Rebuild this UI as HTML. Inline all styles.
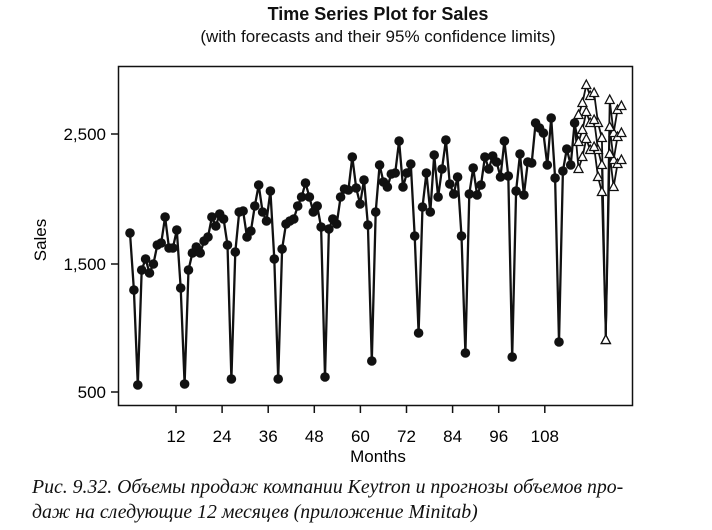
<!DOCTYPE html>
<html><head><meta charset="utf-8"><style>
body{margin:0;background:#fff;width:712px;height:530px;overflow:hidden;position:relative;font-family:"Liberation Sans",sans-serif;color:#111}
.t{position:absolute;white-space:nowrap}
</style></head><body>
<div class="t" style="left:0;width:756px;top:4px;text-align:center;font-weight:bold;font-size:18px">Time Series Plot for Sales</div>
<div class="t" style="left:0;width:756px;top:27px;text-align:center;font-size:17px">(with forecasts and their 95% confidence limits)</div>
<div class="t" style="left:32px;top:476px;font-family:'Liberation Serif',serif;font-style:italic;font-size:19.8px">Рис. 9.32. Объемы продаж компании Keytron и прогнозы объемов про-</div>
<div class="t" style="left:32px;top:501px;font-family:'Liberation Serif',serif;font-style:italic;font-size:19.8px">даж на следующие 12 месяцев (приложение Minitab)</div>
<svg id="s" width="712" height="530" style="position:absolute;left:0;top:0" font-family="Liberation Sans, sans-serif"></svg>
<script>
var s=document.getElementById('s'),h='';
h+='<rect x="118.5" y="66.5" width="514" height="339" fill="none" stroke="#111" stroke-width="1.5"/>';
[[2500,134,'2,500'],[1500,264,'1,500'],[500,392,'500']].forEach(function(a){h+='<line x1="111" y1="'+a[1]+'" x2="118" y2="'+a[1]+'" stroke="#111" stroke-width="1.5"/><text x="106" y="'+(a[1]+6)+'" font-size="17" text-anchor="end">'+a[2]+'</text>';});
var tx=[];for(var k=1;k<=9;k++)tx.push(176+(k-1)*46.1);
tx.forEach(function(x,i){h+='<line x1="'+x+'" y1="406" x2="'+x+'" y2="413" stroke="#111" stroke-width="1.5"/><text x="'+x+'" y="442" font-size="17" text-anchor="middle">'+(12*(i+1))+'</text>';});
h+='<text x="378" y="462" font-size="17" text-anchor="middle">Months</text>';
h+='<text transform="translate(46,240) rotate(-90)" font-size="17" text-anchor="middle">Sales</text>';
var y=[233,290,385,270,259,273,264,245,243,217,248,248,230,288,384,270,253,247,253,241,237,217,226,214,219,245,379,252,212,211,237,231,206,185,212,221,191,259,379,249,224,221,219,206,197,183,197,212,206,227,377,229,219,224,197,189,190,157,188,204,180,225,361,212,165,182,187,174,173,141,187,173,164,236,333,207,173,212,155,197,169,140,184,194,177,236,353,194,168,195,185,157,169,156,162,177,141,176,357,191,154,195,162,163,123,128,133,165,118,178,342,171,149,165,123];
var xs=[];for(var i=0;i<y.length;i++)xs.push(130+i*3.9);
var p='';for(i=0;i<y.length;i++)p+=(i?'L':'M')+xs[i].toFixed(1)+' '+y[i];
h+='<path d="'+p+'" fill="none" stroke="#111" stroke-width="2.3"/>';
for(i=0;i<y.length;i++)h+='<circle cx="'+xs[i].toFixed(1)+'" cy="'+y[i]+'" r="4.8" fill="#111"/>';
var m=[142,130,112,123,120,150,165,340,127,160,137,133];
var x0=xs[xs.length-1];
[-27,0,27].forEach(function(d){var q='M'+x0.toFixed(1)+' '+y[y.length-1];for(var j=0;j<12;j++){var v=m[j]+(j==7?0:d);q+='L'+(x0+3.9*(j+1)).toFixed(1)+' '+v;}h+='<path d="'+q+'" fill="none" stroke="#111" stroke-width="1.8"/>';});
[-27,0,27].forEach(function(d){for(var j=0;j<12;j++){var cx=x0+3.9*(j+1),cy=m[j]+(j==7?0:d);h+='<polygon points="'+cx+','+(cy-5)+' '+(cx-4.5)+','+(cy+3.5)+' '+(cx+4.5)+','+(cy+3.5)+'" fill="#fff" stroke="#111" stroke-width="1.3"/>';}});
s.innerHTML=h;
</script>
</body></html>
